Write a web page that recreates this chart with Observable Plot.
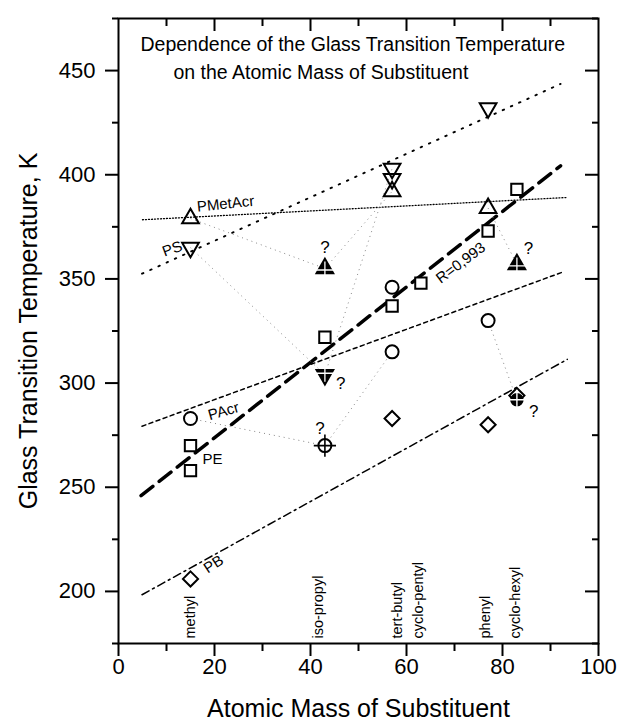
<!DOCTYPE html>
<html><head><meta charset="utf-8">
<script src="https://cdn.jsdelivr.net/npm/d3@7"></script>
<script src="https://cdn.jsdelivr.net/npm/@observablehq/plot@0.6"></script>
<style>body{margin:0;background:#fff}</style>
</head><body><div id="chart"></div>
<script>
// ---- axes ----
const xTicksMajor = [0, 20, 40, 60, 80, 100];
const xTicksMinor = [10, 30, 50, 70, 90];
const xTopMajor = [20, 40, 60, 80];
const yTicksMajor = [200, 250, 300, 350, 400, 450];
const yTicksMinor = [175, 225, 275, 325, 375, 425, 475];
const titleLines = ["Dependence of the Glass Transition Temperature", "on the Atomic Mass of Substituent"];
const xTitle = "Atomic Mass of Substituent";
const yTitle = "Glass Transition Temperature, K";

// ---- substituents ----
const substituents = ["methyl", "iso-propyl", "tert-butyl", "cyclo-pentyl", "phenyl", "cyclo-hexyl"];
const substituentLabelX = [15, 41.7, 58, 62.5, 76.5, 82.7];

// ---- PMetAcr (triangles up) ----
const pmetacrMass = [15, 57, 77];
const pmetacrTg = [379, 392, 384];
const pmetacrQMass = [43, 83];
const pmetacrQTg = [355, 357];
// ---- PS (triangles down) ----
const psMass = [15, 57, 57, 77];
const psTg = [365, 403, 398, 432];
const psQMass = [43];
const psQTg = [304];
// ---- PAcr (circles) ----
const pacrMass = [15, 57, 57, 77];
const pacrTg = [283, 315, 346, 330];
const pacrQMass = [43, 83];
const pacrQTg = [270, 292];
// ---- PE (squares) ----
const peMass = [15, 15, 43, 57, 63, 77, 83];
const peTg = [258, 270, 322, 337, 348, 373, 393];
// ---- PB (diamonds) ----
const pbMass = [15, 57, 77, 83];
const pbTg = [206, 283, 280, 294];

// ---- connecting lines between substituents of one polymer ----
const linkFromMass = [15, 43, 77, 15, 43, 15, 43, 77];
const linkFromTg   = [379, 355, 384, 365, 304, 283, 270, 330];
const linkToMass   = [43, 57, 83, 43, 57, 43, 57, 83];
const linkToTg     = [355, 392, 357, 304, 403, 270, 315, 292];

// ---- fit lines ----
const fitPMetAcrMass = [5, 93.5], fitPMetAcrTg = [378.4, 389.1];
const fitPSMass = [4.9, 92.1],    fitPSTg = [352.5, 443.6];
const fitPAcrMass = [4.9, 92.8],  fitPAcrTg = [279.3, 353.5];
const fitPEMass = [4.7, 92.1],    fitPETg = [246, 404.3];
const fitPBMass = [4.9, 93.5],    fitPBTg = [198.4, 311.4];

// ---- labels ----
const seriesLabels = ["PMetAcr", "PS", "PAcr", "PE", "PB", "R=0,993"];
const seriesLabelMass = [22.3, 11.2, 21.9, 19.6, 19.8, 71.3];
const seriesLabelTg = [386, 364.4, 286.5, 263.5, 213, 357.7];
const seriesLabelAngle = [-6, -20, -16, 0, -33, -37];
const qMass = [43, 46.3, 42, 85.4, 86.5];
const qTg = [365, 300, 278, 364.4, 286.5];

const triangleDown = {
  draw(context, size) {
    const y = -Math.sqrt(size / (Math.sqrt(3) * 3));
    context.moveTo(0, -y * 2);
    context.lineTo(-Math.sqrt(3) * y, y);
    context.lineTo(Math.sqrt(3) * y, y);
    context.closePath();
  }
};

const pts = (xs, ys) => xs.map((x, i) => ({x, y: ys[i]}));
const fit = (xs, ys, opts) => Plot.line(pts(xs, ys), {x: "x", y: "y", stroke: "black", ...opts});
const FONT = "'Liberation Sans', Arial, Helvetica, sans-serif";
const FW = 480, FH = 625;

const chart = Plot.plot({
  width: 623, height: 722,
  marginLeft: 118, marginRight: 25, marginTop: 18, marginBottom: 79,
  x: {domain: [0, 100]},
  y: {domain: [175, 475]},
  style: {fontFamily: FONT, fontSize: "22px", background: "white", color: "black"},
  marks: [
    // fit lines
    fit(fitPMetAcrMass, fitPMetAcrTg, {strokeWidth: 1.3, strokeDasharray: "1,2"}),
    fit(fitPSMass, fitPSTg, {strokeWidth: 1.9, strokeDasharray: "1.5,7.5"}),
    fit(fitPAcrMass, fitPAcrTg, {strokeWidth: 1.5, strokeDasharray: "4,3.5"}),
    fit(fitPEMass, fitPETg, {strokeWidth: 3.5, strokeDasharray: "15,8"}),
    fit(fitPBMass, fitPBTg, {strokeWidth: 1.5, strokeDasharray: "8,4,2,4"}),
    // connectors
    Plot.link(d3.range(linkFromMass.length), {
      x1: i => linkFromMass[i], y1: i => linkFromTg[i],
      x2: i => linkToMass[i], y2: i => linkToTg[i],
      stroke: "#888", strokeWidth: 1, strokeDasharray: "1,4"
    }),
    // PE squares
    Plot.dot(pts(peMass, peTg), {x: "x", y: "y", symbol: "square", r: 6.4, fill: "white", stroke: "black", strokeWidth: 2}),
    // PAcr circles
    Plot.dot(pts(pacrMass, pacrTg), {x: "x", y: "y", symbol: "circle", r: 6.5, fill: "white", stroke: "black", strokeWidth: 2}),
    // PB diamonds
    Plot.dot(pts(pbMass, pbTg), {x: "x", y: "y", symbol: "diamond2", r: 6.8, fill: "white", stroke: "black", strokeWidth: 2}),
    // PAcr uncertain: iso-propyl open circle with plus, cyclo-hexyl filled
    Plot.dot(pts(pacrQMass.slice(0, 1), pacrQTg.slice(0, 1)), {x: "x", y: "y", symbol: "circle", r: 6.5, fill: "white", stroke: "black", strokeWidth: 2}),
    Plot.dot(pts(pacrQMass.slice(0, 1), pacrQTg.slice(0, 1)), {x: "x", y: "y", symbol: "plus", r: 7.2, stroke: "black", strokeWidth: 1.6}),
    Plot.dot(pts(pacrQMass.slice(1), pacrQTg.slice(1)), {x: "x", y: "y", symbol: "circle", r: 6, fill: "black", stroke: "black", strokeWidth: 1.5}),
    Plot.dot(pts(pacrQMass.slice(1), pacrQTg.slice(1)), {x: "x", y: "y", symbol: "plus", r: 6.5, stroke: "white", strokeWidth: 1.4}),
    // PMetAcr triangles
    Plot.dot(pts(pmetacrMass, pmetacrTg), {x: "x", y: "y", symbol: "triangle", r: 6.2, fill: "none", stroke: "black", strokeWidth: 2}),
    Plot.dot(pts(pmetacrQMass, pmetacrQTg), {x: "x", y: "y", symbol: "triangle", r: 6.2, fill: "black", stroke: "black", strokeWidth: 2}),
    Plot.dot(pts(pmetacrQMass, pmetacrQTg), {x: "x", y: "y", symbol: "plus", r: 5.5, stroke: "white", strokeWidth: 1.3, dy: 1.5}),
    // PS triangles down
    Plot.dot(pts(psMass, psTg), {x: "x", y: "y", symbol: triangleDown, r: 6.2, fill: "none", stroke: "black", strokeWidth: 2}),
    Plot.dot(pts(psQMass, psQTg), {x: "x", y: "y", symbol: triangleDown, r: 6.2, fill: "black", stroke: "black", strokeWidth: 2}),
    Plot.dot(pts(psQMass, psQTg), {x: "x", y: "y", symbol: "plus", r: 5.5, stroke: "white", strokeWidth: 1.3, dy: -1.5}),
    // series labels
    Plot.text(d3.range(seriesLabels.length), {
      x: i => seriesLabelMass[i], y: i => seriesLabelTg[i], text: i => seriesLabels[i],
      rotate: i => seriesLabelAngle[i], fontSize: 15, fill: "black"
    }),
    // question marks
    Plot.text(d3.range(qMass.length), {x: i => qMass[i], y: i => qTg[i], text: () => "?", fontSize: 17, fill: "black"}),
    // substituent names
    Plot.text(substituents, {
      x: (d, i) => substituentLabelX[i], frameAnchor: "bottom", dy: -5,
      rotate: -90, textAnchor: "start", lineAnchor: "middle", fontSize: 14.5, fill: "black"
    }),
    // title inside frame
    Plot.text([titleLines[0]], {frameAnchor: "top-left", dx: 22, dy: 26, textAnchor: "start", lineAnchor: "middle", fontSize: 19.5, fill: "black"}),
    Plot.text([titleLines[1]], {frameAnchor: "top-left", dx: 55, dy: 54, textAnchor: "start", lineAnchor: "middle", fontSize: 19.5, fill: "black"}),
    // frame & axes
    Plot.frame({stroke: "black", strokeWidth: 2}),
    Plot.axisX({ticks: xTicksMajor, tickSize: 13, tickPadding: 2, strokeWidth: 2, label: null, fontSize: 22}),
    Plot.axisX({ticks: xTicksMinor, tickSize: 8, strokeWidth: 2, label: null, tickFormat: () => ""}),
    Plot.axisY({ticks: yTicksMajor, tickSize: 13, tickPadding: 10, strokeWidth: 2, label: null, fontSize: 22}),
    Plot.axisY({ticks: yTicksMinor, tickSize: 6, strokeWidth: 2, label: null, tickFormat: () => ""}),
    Plot.tickX(xTopMajor, {x: d => d, insetBottom: FH - 13, strokeWidth: 2}),
    Plot.tickX(xTicksMinor, {x: d => d, insetBottom: FH - 8, strokeWidth: 2}),
    Plot.tickY(yTicksMajor, {y: d => d, insetLeft: FW - 13, strokeWidth: 2}),
    Plot.tickY(yTicksMinor, {y: d => d, insetLeft: FW - 6, strokeWidth: 2}),
    // axis titles
    Plot.text([xTitle], {frameAnchor: "bottom", dy: 65, textAnchor: "middle", lineAnchor: "middle", fontSize: 25, fill: "black"}),
    Plot.text([yTitle], {frameAnchor: "left", dx: -90, rotate: -90, textAnchor: "middle", lineAnchor: "middle", fontSize: 25, fill: "black"})
  ]
});
document.getElementById("chart").appendChild(chart);
</script>
</body></html>
